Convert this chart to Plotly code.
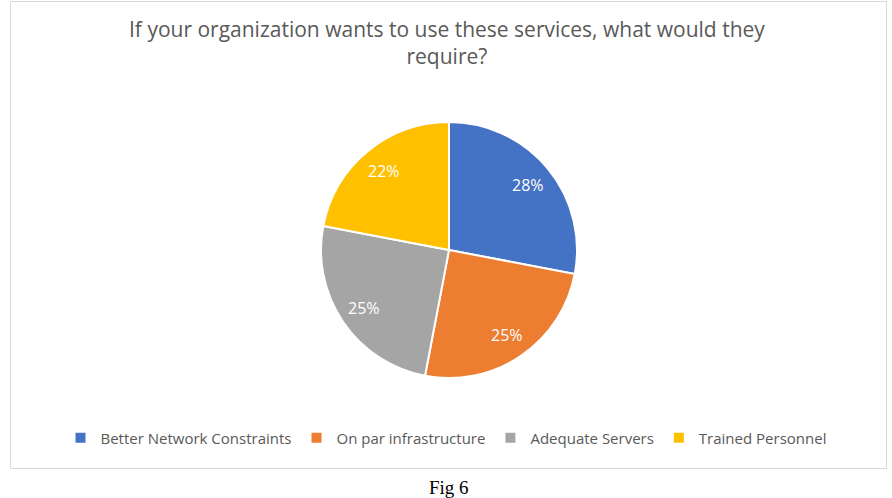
import math
import plotly.graph_objects as go

labels = ["Better Network Constraints", "On par infrastructure", "Adequate Servers", "Trained Personnel"]
values = [28, 25, 25, 22]
colors = ["#4472C4", "#ED7D31", "#A5A5A5", "#FFC000"]
title_text = "If your organization wants to use these services, what would they<br>require?"
caption = "Fig 6"

W, H = 892, 498
cx, cy, r = 449, 250, 128

fig = go.Figure(go.Pie(
    labels=labels, values=values, sort=False, direction="clockwise", rotation=0,
    marker=dict(colors=colors, line=dict(color="white", width=2)),
    textinfo="none",
    domain=dict(x=[(cx - r) / W, (cx + r) / W], y=[(H - cy - r) / H, (H - cy + r) / H]),
    hoverinfo="label+percent",
))

# data labels placed at 0.8 radius along each slice's mid-angle
total = sum(values)
label_annotations = []
cum = 0
for v in values:
    mid = (cum + v / 2) / total * 2 * math.pi
    cum += v
    px = cx + 0.8 * r * math.sin(mid)
    py = cy - 0.8 * r * math.cos(mid)
    label_annotations.append(dict(
        text=f"{round(100 * v / total)}%", xref="paper", yref="paper",
        x=px / W, y=1 - py / H, xanchor="center", yanchor="middle", showarrow=False,
        font=dict(family="Open Sans", size=16, color="white")))

fig.update_layout(
    width=W, height=H,
    margin=dict(l=0, r=0, t=0, b=0),
    paper_bgcolor="white",
    showlegend=True,
    legend=dict(orientation="h", x=0.5, xanchor="center", y=1 - 438 / H, yanchor="middle",
                font=dict(family="Open Sans", size=15, color="#595959"),
                itemwidth=30, traceorder="normal"),
    shapes=[dict(type="rect", xref="paper", yref="paper",
                 x0=10.5 / W, x1=886.5 / W, y0=1 - 468.5 / H, y1=1 - 1.5 / H,
                 line=dict(color="#D9D9D9", width=1), fillcolor="rgba(0,0,0,0)", layer="below")],
    annotations=[
        dict(text=title_text, xref="paper", yref="paper", x=0.5 + 1 / W, y=1 - 43 / H,
             xanchor="center", yanchor="middle", showarrow=False,
             font=dict(family="Open Sans", size=21, color="#595959")),
        dict(text=caption, xref="paper", yref="paper", x=449 / W, y=1 - 487 / H,
             xanchor="center", yanchor="middle", showarrow=False,
             font=dict(family="Liberation Serif", size=19, color="black")),
    ] + label_annotations,
)

fig.write_html("out.html")
